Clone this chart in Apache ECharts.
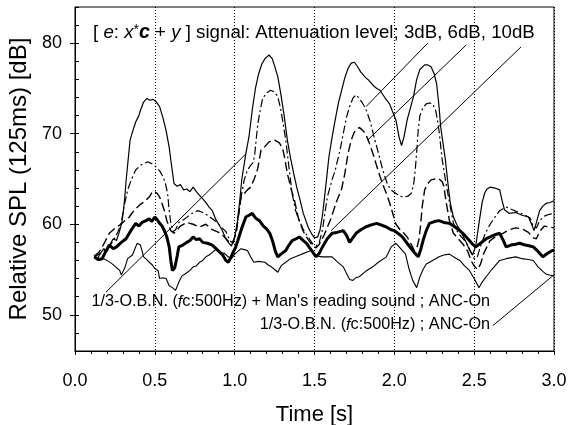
<!DOCTYPE html>
<html><head><meta charset="utf-8">
<script src="https://cdn.jsdelivr.net/npm/echarts@6/dist/echarts.min.js"></script>
<style>html,body{margin:0;padding:0;background:#fff}#c{width:568px;height:425px}</style>
</head><body><div id="c"></div>
<script>
const xTicks = [0, 0.5, 1.0, 1.5, 2.0, 2.5, 3.0];
const yLabelValues = [50, 60, 70, 80];
const yMinorTicks = [46,48,50,52,54,56,58,60,62,64,66,68,70,72,74,76,78,80,82,84];

// 1/3-O.B.N. + Man's reading sound ; ANC-On (thin solid)
const seriesA = [[0.12,56.6],[0.14,56.2],[0.16,56.8],[0.18,57.3],[0.20,57.0],[0.22,57.8],[0.24,58.4],[0.26,58.2],[0.28,59.3],[0.295,60.3],[0.31,62.6],[0.32,64.8],[0.33,66.6],[0.345,69.3],[0.36,70.2],[0.38,71.3],[0.40,72.0],[0.41,72.6],[0.43,73.5],[0.45,73.9],[0.47,73.7],[0.49,73.8],[0.51,73.5],[0.53,73.0],[0.55,71.8],[0.57,70.4],[0.59,68.5],[0.60,67.1],[0.62,64.5],[0.64,64.2],[0.66,64.4],[0.68,63.8],[0.70,63.9],[0.72,63.6],[0.74,64.1],[0.76,63.6],[0.78,63.2],[0.80,62.8],[0.82,62.4],[0.84,61.9],[0.86,61.5],[0.88,60.6],[0.90,60.0],[0.92,59.4],[0.94,58.6],[0.96,58.0],[0.98,57.6],[1.00,58.6],[1.015,60.0],[1.03,62.3],[1.045,65.0],[1.07,67.8],[1.09,69.7],[1.11,72.6],[1.13,75.0],[1.15,76.6],[1.17,77.7],[1.19,78.3],[1.215,78.7],[1.235,78.3],[1.25,77.5],[1.27,76.3],[1.29,74.3],[1.31,72.0],[1.33,69.3],[1.35,67.3],[1.37,65.6],[1.39,64.0],[1.405,63.0],[1.43,61.2],[1.46,59.7],[1.48,59.0],[1.50,58.5],[1.52,58.6],[1.535,59.4],[1.55,61.0],[1.57,64.1],[1.59,67.4],[1.61,69.6],[1.625,71.1],[1.65,73.4],[1.67,74.8],[1.69,76.2],[1.71,77.2],[1.73,77.8],[1.75,77.9],[1.77,77.4],[1.79,76.8],[1.82,76.2],[1.84,75.9],[1.87,75.3],[1.89,75.0],[1.91,74.8],[1.94,74.0],[1.97,73.3],[1.99,72.4],[2.01,71.5],[2.03,69.6],[2.045,68.7],[2.06,69.6],[2.08,71.5],[2.10,72.8],[2.12,74.1],[2.14,76.0],[2.16,77.1],[2.19,77.6],[2.21,77.6],[2.23,77.4],[2.25,76.6],[2.265,75.5],[2.28,73.0],[2.29,70.8],[2.31,68.3],[2.32,67.1],[2.335,64.6],[2.35,62.4],[2.37,60.8],[2.39,60.0],[2.41,59.4],[2.43,58.7],[2.45,58.0],[2.47,57.2],[2.49,56.6],[2.51,57.6],[2.53,60.1],[2.55,62.4],[2.565,63.4],[2.58,63.9],[2.60,64.1],[2.63,64.0],[2.66,63.8],[2.675,62.6],[2.69,61.6],[2.72,61.2],[2.76,61.3],[2.80,61.0],[2.84,60.8],[2.86,60.0],[2.875,59.3],[2.89,60.2],[2.91,61.5],[2.93,62.0],[2.95,62.3],[2.975,62.4],[3.0,62.6]];

// 3dB (dash-dot)
const seriesB = [[0.12,56.4],[0.15,56.7],[0.18,57.0],[0.21,57.4],[0.24,58.2],[0.27,59.2],[0.29,60.2],[0.31,62.2],[0.33,63.8],[0.35,64.8],[0.38,66.0],[0.41,66.5],[0.43,66.7],[0.455,66.9],[0.48,66.7],[0.51,66.3],[0.53,65.9],[0.55,65.3],[0.565,64.6],[0.58,63.4],[0.59,61.5],[0.60,60.1],[0.615,59.2],[0.63,59.4],[0.65,60.2],[0.68,60.5],[0.71,60.9],[0.74,61.3],[0.77,61.5],[0.80,61.3],[0.83,61.0],[0.86,60.6],[0.89,60.2],[0.92,59.6],[0.945,59.2],[0.97,58.2],[0.99,57.9],[1.01,59.3],[1.025,61.0],[1.04,63.0],[1.06,64.9],[1.08,66.0],[1.10,66.5],[1.115,66.8],[1.125,67.6],[1.135,69.4],[1.145,71.1],[1.16,72.6],[1.175,73.9],[1.20,74.5],[1.225,74.8],[1.25,74.6],[1.27,74.1],[1.285,73.0],[1.30,71.5],[1.32,69.3],[1.34,66.3],[1.36,63.4],[1.38,61.6],[1.40,60.6],[1.43,59.4],[1.46,58.6],[1.49,57.8],[1.51,57.6],[1.53,58.0],[1.55,59.4],[1.565,61.2],[1.58,63.0],[1.61,64.9],[1.63,66.0],[1.645,67.1],[1.66,68.2],[1.68,70.0],[1.70,71.8],[1.72,73.0],[1.74,73.9],[1.76,74.3],[1.78,73.9],[1.80,73.4],[1.82,72.8],[1.85,71.3],[1.875,69.5],[1.90,67.9],[1.92,66.5],[1.94,65.3],[1.96,64.3],[1.985,63.7],[2.01,63.4],[2.035,63.1],[2.06,63.0],[2.085,63.1],[2.105,63.4],[2.12,64.3],[2.13,65.8],[2.14,68.0],[2.15,70.5],[2.16,72.0],[2.18,72.9],[2.20,73.3],[2.22,73.4],[2.24,73.3],[2.26,72.5],[2.27,71.5],[2.28,70.3],[2.30,67.1],[2.32,64.9],[2.335,63.4],[2.355,61.5],[2.37,60.1],[2.40,59.0],[2.43,58.4],[2.45,58.0],[2.48,56.9],[2.50,56.2],[2.52,56.4],[2.54,57.6],[2.57,59.0],[2.60,60.0],[2.63,60.8],[2.66,61.5],[2.70,61.9],[2.74,61.6],[2.78,61.3],[2.82,61.0],[2.85,60.7],[2.87,59.8],[2.89,59.6],[2.91,60.4],[2.94,60.9],[2.97,61.1],[3.0,61.2]];

// 6dB (dashed)
const seriesC = [[0.12,56.5],[0.15,56.9],[0.18,57.8],[0.215,59.0],[0.24,59.4],[0.26,59.7],[0.28,59.9],[0.30,60.2],[0.32,60.5],[0.34,60.8],[0.36,61.3],[0.38,61.7],[0.41,62.2],[0.435,62.5],[0.465,63.0],[0.485,63.6],[0.50,63.6],[0.515,63.4],[0.53,63.0],[0.545,62.3],[0.56,61.5],[0.575,60.4],[0.59,59.7],[0.60,59.3],[0.62,59.0],[0.64,59.4],[0.66,59.8],[0.70,60.2],[0.74,60.0],[0.78,59.7],[0.82,60.0],[0.86,59.4],[0.90,59.1],[0.93,58.7],[0.955,58.2],[0.985,57.9],[1.01,59.0],[1.025,61.2],[1.04,63.0],[1.06,63.4],[1.08,63.8],[1.10,64.1],[1.12,64.9],[1.135,65.6],[1.145,66.2],[1.165,68.2],[1.19,68.6],[1.215,69.1],[1.25,69.3],[1.28,69.0],[1.30,68.4],[1.31,67.6],[1.33,65.6],[1.355,63.8],[1.375,62.6],[1.40,60.6],[1.43,59.2],[1.46,58.3],[1.49,57.6],[1.51,57.4],[1.53,57.8],[1.56,58.8],[1.60,60.5],[1.64,62.6],[1.67,63.9],[1.69,65.6],[1.70,66.7],[1.71,67.8],[1.73,69.3],[1.75,70.2],[1.78,70.7],[1.80,70.4],[1.82,70.0],[1.845,68.9],[1.87,67.6],[1.89,66.4],[1.91,65.3],[1.93,64.3],[1.95,63.4],[1.97,62.4],[1.99,61.2],[2.01,60.0],[2.04,59.3],[2.06,59.0],[2.08,58.6],[2.105,57.8],[2.125,57.1],[2.14,57.3],[2.155,58.4],[2.165,60.0],[2.175,62.0],[2.19,63.8],[2.21,64.5],[2.23,64.9],[2.255,65.0],[2.28,65.0],[2.30,64.7],[2.31,64.2],[2.325,62.4],[2.345,60.4],[2.37,59.0],[2.40,58.4],[2.43,57.8],[2.46,57.0],[2.48,56.0],[2.50,55.4],[2.52,55.0],[2.54,55.6],[2.56,56.8],[2.60,58.2],[2.64,58.7],[2.68,59.0],[2.72,59.4],[2.76,59.6],[2.80,59.5],[2.84,59.1],[2.87,58.5],[2.89,58.4],[2.91,59.2],[2.94,59.8],[2.97,59.7],[3.0,59.6]];

// 10dB (thick solid)
const seriesD = [[0.12,56.4],[0.145,56.1],[0.17,56.2],[0.19,56.9],[0.215,57.7],[0.24,57.3],[0.26,57.5],[0.29,58.0],[0.32,58.4],[0.35,59.3],[0.38,60.1],[0.40,59.8],[0.42,60.2],[0.445,60.4],[0.465,60.6],[0.48,60.3],[0.50,60.8],[0.515,60.5],[0.53,60.1],[0.545,59.8],[0.56,59.3],[0.575,58.6],[0.59,57.5],[0.60,56.0],[0.61,54.9],[0.625,55.2],[0.64,56.5],[0.65,57.5],[0.675,57.7],[0.70,58.0],[0.72,58.2],[0.74,58.6],[0.76,58.3],[0.78,58.4],[0.80,58.0],[0.83,57.9],[0.86,57.7],[0.89,57.2],[0.925,56.6],[0.945,56.0],[0.96,55.8],[0.975,56.3],[0.99,56.9],[1.005,57.4],[1.02,58.2],[1.045,59.6],[1.07,60.8],[1.09,61.0],[1.11,61.2],[1.13,60.7],[1.155,60.4],[1.18,59.8],[1.20,59.5],[1.22,59.0],[1.24,58.0],[1.255,57.0],[1.27,56.4],[1.29,56.7],[1.32,57.1],[1.34,57.7],[1.36,58.2],[1.385,58.4],[1.405,58.6],[1.43,58.2],[1.45,57.9],[1.47,57.4],[1.49,56.9],[1.51,56.4],[1.53,56.8],[1.55,57.5],[1.58,58.4],[1.61,59.0],[1.64,59.1],[1.68,59.3],[1.70,58.8],[1.72,58.0],[1.74,58.5],[1.76,59.0],[1.79,59.4],[1.82,59.7],[1.85,59.9],[1.89,60.1],[1.92,59.9],[1.95,59.7],[1.98,59.4],[2.0,59.3],[2.03,58.9],[2.05,58.6],[2.08,57.9],[2.115,57.1],[2.135,56.7],[2.15,56.4],[2.165,57.2],[2.18,58.2],[2.20,59.3],[2.22,60.1],[2.25,60.3],[2.28,60.4],[2.31,60.2],[2.345,60.1],[2.38,59.7],[2.41,59.3],[2.44,58.8],[2.47,58.2],[2.49,57.8],[2.51,57.5],[2.54,57.9],[2.575,58.4],[2.61,58.7],[2.64,58.9],[2.66,59.0],[2.68,58.3],[2.70,57.5],[2.73,57.7],[2.76,57.8],[2.785,57.9],[2.82,57.7],[2.85,57.6],[2.87,57.5],[2.90,57.0],[2.93,56.4],[2.96,56.8],[2.99,57.1],[3.0,57.1]];

// 1/3-O.B.N. ; ANC-On (thin solid, lowest)
const seriesE = [[0.12,56.3],[0.15,56.0],[0.18,56.2],[0.21,55.9],[0.235,55.6],[0.26,55.2],[0.28,54.9],[0.29,54.4],[0.30,54.3],[0.31,55.1],[0.33,56.2],[0.36,56.6],[0.375,57.3],[0.39,57.9],[0.41,57.7],[0.43,56.4],[0.45,56.1],[0.465,55.8],[0.485,55.5],[0.50,55.1],[0.52,54.9],[0.53,54.0],[0.55,54.1],[0.57,54.0],[0.59,53.2],[0.61,53.0],[0.63,52.7],[0.65,53.6],[0.67,54.3],[0.69,54.5],[0.705,54.7],[0.72,54.9],[0.74,55.3],[0.76,55.4],[0.78,55.8],[0.80,56.0],[0.82,56.4],[0.84,56.6],[0.86,56.9],[0.88,57.2],[0.905,56.9],[0.935,56.8],[0.96,56.4],[0.98,56.2],[1.0,56.7],[1.01,56.9],[1.04,57.3],[1.06,57.2],[1.08,57.1],[1.10,56.4],[1.12,55.8],[1.15,55.9],[1.19,55.8],[1.21,55.5],[1.23,55.3],[1.25,55.0],[1.27,54.7],[1.29,55.4],[1.32,55.8],[1.35,56.2],[1.38,56.4],[1.42,56.7],[1.45,56.9],[1.48,57.1],[1.51,56.5],[1.55,56.4],[1.61,56.4],[1.64,55.9],[1.68,55.3],[1.70,54.6],[1.72,53.9],[1.74,53.8],[1.76,54.1],[1.78,54.2],[1.82,54.8],[1.865,55.3],[1.90,55.8],[1.95,56.4],[1.98,57.5],[2.01,57.9],[2.04,57.3],[2.07,56.7],[2.09,55.2],[2.115,53.8],[2.14,53.0],[2.16,54.2],[2.18,55.0],[2.2,55.6],[2.24,56.0],[2.28,56.4],[2.31,56.6],[2.345,56.7],[2.38,56.3],[2.41,56.0],[2.44,55.4],[2.47,54.9],[2.50,54.0],[2.53,53.0],[2.55,53.6],[2.575,54.2],[2.61,55.0],[2.66,56.0],[2.70,56.2],[2.76,56.4],[2.80,56.2],[2.84,56.1],[2.87,56.0],[2.90,55.3],[2.93,54.8],[2.95,54.5],[2.97,54.4],[3.0,54.3]];

// leader lines [from, to] in data coordinates
const leaders = [
  [[0.194, 52.5], [1.072, 67.8]],
  [[2.209, 80.0], [1.823, 73.0]],
  [[2.450, 79.8], [1.833, 69.3]],
  [[2.794, 79.6], [1.604, 59.3]],
  [[2.617, 48.8], [2.992, 54.3]]
];

const FONT = '"Liberation Sans", Arial, Helvetica, sans-serif';
const chart = echarts.init(document.getElementById('c'), null, {renderer: 'canvas'});
const baseLine = (name, data, width, type) => ({
  name, type: 'line', data, showSymbol: false, symbol: 'none',
  lineStyle: {color: '#000', width, type}, silent: true, z: 3
});
const sA = baseLine("1/3-O.B.N. + Man's reading sound ; ANC-On", seriesA, 1.2, 'solid');
sA.markLine = {
  silent: true, symbol: ['none', 'none'], animation: false,
  label: {show: false},
  lineStyle: {color: '#000', width: 1, type: 'solid'},
  data: leaders.map(p => [{coord: p[0]}, {coord: p[1]}])
};
const TOPFS = 18.7;
chart.setOption({
  animation: false,
  backgroundColor: '#fff',
  grid: {left: 75, right: 14, top: 7, bottom: 74, show: true, borderColor: '#000', borderWidth: 1,
    containLabel: false, outerBoundsMode: 'none'},
  xAxis: {
    type: 'value', min: 0, max: 3, interval: 0.5,
    axisLine: {show: true, lineStyle: {color: '#000', width: 1}},
    axisTick: {show: true, length: 4, lineStyle: {color: '#000'}},
    minorTick: {show: true, splitNumber: 5, length: 3, lineStyle: {color: '#000'}},
    axisLabel: {color: '#000', fontSize: 18, fontFamily: FONT, margin: 21,
      customValues: xTicks, formatter: v => v.toFixed(1)},
    splitLine: {show: true, lineStyle: {color: '#000', width: 1, type: [1, 2]}},
    name: 'Time [s]', nameLocation: 'middle', nameGap: 53,
    nameTextStyle: {color: '#000', fontSize: 22, fontFamily: FONT}
  },
  yAxis: [{
    type: 'value', min: 46, max: 84,
    axisLine: {show: true, lineStyle: {color: '#000', width: 1}},
    axisTick: {show: true, inside: true, length: 4, customValues: yMinorTicks, lineStyle: {color: '#000'}},
    axisLabel: {color: '#000', fontSize: 18, fontFamily: FONT, margin: 13, customValues: yLabelValues},
    splitLine: {show: false},
    name: 'Relative SPL (125ms) [dB]', nameLocation: 'middle', nameGap: 44,
    nameTextStyle: {color: '#000', fontSize: 24, fontFamily: FONT}
  }, {
    type: 'value', min: 46, max: 84, position: 'left',
    axisLine: {show: false},
    axisTick: {show: true, inside: false, length: 5, customValues: yLabelValues, lineStyle: {color: '#000'}},
    axisLabel: {show: false}, splitLine: {show: false}
  }],
  graphic: [
    {type: 'text', x: 93, y: 33, silent: true, style: {
      text: '{n|[ }{i|e}{n|: }{i|x}{s|*}{b|c}{n| + }{i|y}{n| ] signal: Attenuation level; 3dB, 6dB, 10dB}',
      verticalAlign: 'middle', align: 'left', fill: '#000', font: TOPFS + 'px ' + FONT,
      rich: {
        n: {fontSize: TOPFS, fontFamily: FONT, fill: '#000'},
        i: {fontSize: TOPFS, fontFamily: FONT, fontStyle: 'italic', fill: '#000'},
        s: {fontSize: 14, fontFamily: FONT, fill: '#000', verticalAlign: 'top'},
        b: {fontSize: TOPFS + 1, fontFamily: FONT, fontStyle: 'italic', fontWeight: 'bold', fill: '#000'}
      }
    }},
    {type: 'text', x: 490, y: 302, silent: true, style: {
      text: "{n|1/3-O.B.N. (}{i|f}{n|c:500Hz) + Man's reading sound ; ANC-On}",
      verticalAlign: 'middle', align: 'right', fill: '#000', font: '16.2px ' + FONT,
      rich: {n: {fontSize: 16.2, fontFamily: FONT, fill: '#000'}, i: {fontSize: 16.2, fontFamily: FONT, fontStyle: 'italic', fill: '#000'}}
    }},
    {type: 'text', x: 490, y: 325, silent: true, style: {
      text: '{n|1/3-O.B.N. (}{i|f}{n|c:500Hz) ; ANC-On}',
      verticalAlign: 'middle', align: 'right', fill: '#000', font: '16.2px ' + FONT,
      rich: {n: {fontSize: 16.2, fontFamily: FONT, fill: '#000'}, i: {fontSize: 16.2, fontFamily: FONT, fontStyle: 'italic', fill: '#000'}}
    }}
  ],
  series: [
    sA,
    baseLine('3dB', seriesB, 1.2, [8, 3, 2, 3]),
    baseLine('6dB', seriesC, 1.4, [9, 4]),
    baseLine('10dB', seriesD, 3, 'solid'),
    baseLine('1/3-O.B.N. ; ANC-On', seriesE, 1.1, 'solid')
  ]
});
</script></body></html>
